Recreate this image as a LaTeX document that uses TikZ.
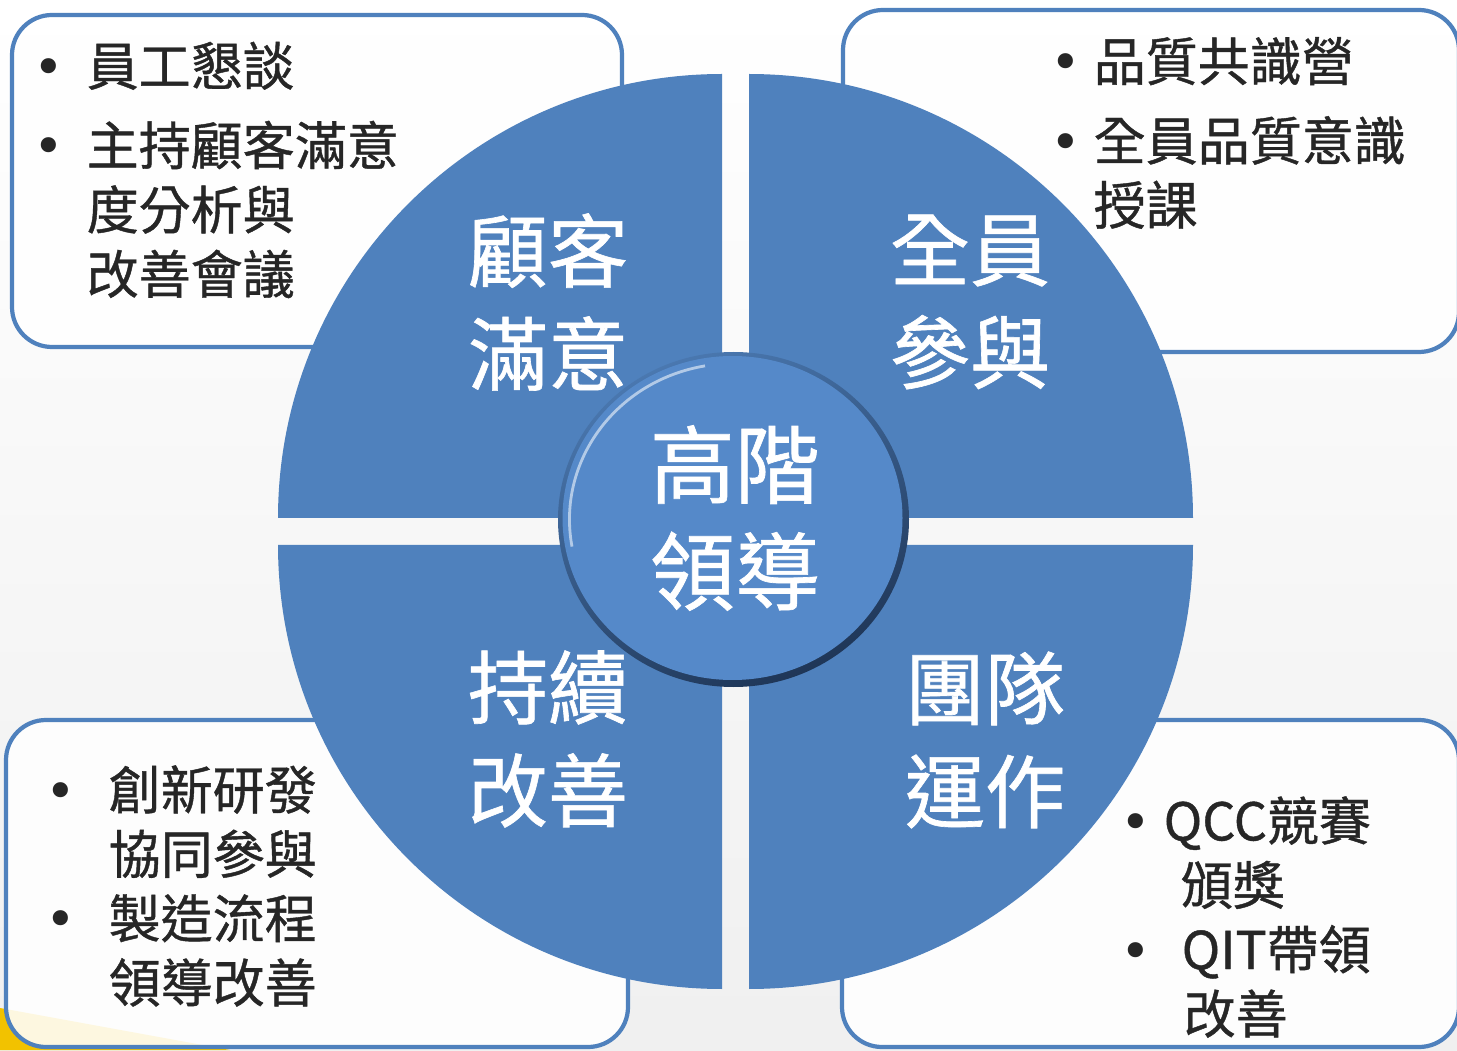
\documentclass[tikz,border=0pt]{standalone}
\usepackage{fontspec}
\setmainfont{Noto Sans CJK TC}[FakeBold=0.8]
\newfontfamily\dotfont{DejaVu Sans}
\usepackage{xcolor}
\definecolor{qblue}{HTML}{4F81BD}
\definecolor{cblue}{HTML}{5589C9}
\definecolor{rimdark}{HTML}{1F3657}
\definecolor{rimlight}{HTML}{4A78B0}
\definecolor{ink}{HTML}{262626}
\definecolor{smear}{HTML}{F2C200}
\newcommand{\bul}[1]{\makebox[#1][l]{\dotfont •}}

\begin{document}
\begin{tikzpicture}[infobox/.style={draw=qblue, line width=1.2pt, rounded corners=0.4cm, fill=white, fill opacity=0.88}, quarter/.style={fill=qblue}, boxtext/.style={anchor=west, align=left, text=ink, inner sep=0pt, font=\fontsize{14.8pt}{18.3pt}\selectfont}, quadlabel/.style={align=center, text=white, inner sep=0pt, font=\fontsize{22.8pt}{29.3pt}\selectfont}]
  \useasboundingbox (0,0) rectangle (14.57,10.50);
  \shade[top color=white, bottom color=black!6] (0,0) rectangle (14.57,10.50);
  \fill[smear] (0,0) -- (0,0.42) -- (2.3,0) -- cycle;
  % boxes behind the wheel
  \draw[infobox] (0.12,7.03) rectangle (6.22,10.35);
  \draw[infobox] (8.43,6.98) rectangle (14.59,10.40);
  \draw[infobox] (0.06,0.03) rectangle (6.28,3.30);
  \draw[infobox] (8.42,0.03) rectangle (14.59,3.30);
  % four quarters
  \fill[quarter] (7.22,5.32) -- (2.78,5.32) arc[start angle=180, end angle=90, radius=4.44] -- cycle;
  \fill[quarter] (7.49,5.32) -- (7.49,9.76) arc[start angle=90, end angle=0, radius=4.44] -- cycle;
  \fill[quarter] (7.22,5.05) -- (7.22,0.61) arc[start angle=270, end angle=180, radius=4.44] -- cycle;
  \fill[quarter] (7.49,5.05) -- (11.93,5.05) arc[start angle=0, end angle=-90, radius=4.44] -- cycle;
  % hub
  \coordinate (hub) at (7.335,5.305);
  \shade[top color=rimlight, bottom color=rimdark, shading angle=25] (hub) ellipse[x radius=1.755, y radius=1.675];
  \fill[cblue] ([xshift=-0.01cm, yshift=0.015cm]hub) ellipse[x radius=1.70, y radius=1.62];
  \draw[cblue!45!white, line width=0.8pt] (hub) ++(100:1.64 and 1.56) arc[start angle=100, end angle=190, x radius=1.64, y radius=1.56];
  % labels
  \node[quadlabel] (care) at (5.48,7.48) {顧客\\滿意};
  \node[quadlabel] (all) at (9.70,7.48) {全員\\參與};
  \node[quadlabel] (keep) at (5.48,3.11) {持續\\改善};
  \node[quadlabel] (team) at (9.85,3.10) {團隊\\運作};
  \node[quadlabel, font=\fontsize{24.2pt}{30.4pt}\selectfont] (lead) at (7.35,5.32) {高階\\領導};
  % box texts
  \node[boxtext] (tl) at (0.33,8.80) {\bul{0.53cm}員工懇談\\[4.3pt]\bul{0.53cm}主持顧客滿意\\\hspace*{0.53cm}度分析與\\\hspace*{0.53cm}改善會議};
  \node[boxtext] (tr) at (10.50,9.17) {\bul{0.43cm}品質共識營\\[4.3pt]\bul{0.43cm}全員品質意識\\\hspace*{0.43cm}授課};
  \node[boxtext] (bl) at (0.45,1.64) {\bul{0.63cm}創新研發\\\hspace*{0.63cm}協同參與\\\bul{0.63cm}製造流程\\\hspace*{0.63cm}領導改善};
  \node[boxtext] (br) at (11.20,1.33) {\bul{0.43cm}QCC競賽\\\hspace*{0.60cm}頒獎\\\bul{0.61cm}QIT帶領\\\hspace*{0.63cm}改善};
\end{tikzpicture}
\end{document}
